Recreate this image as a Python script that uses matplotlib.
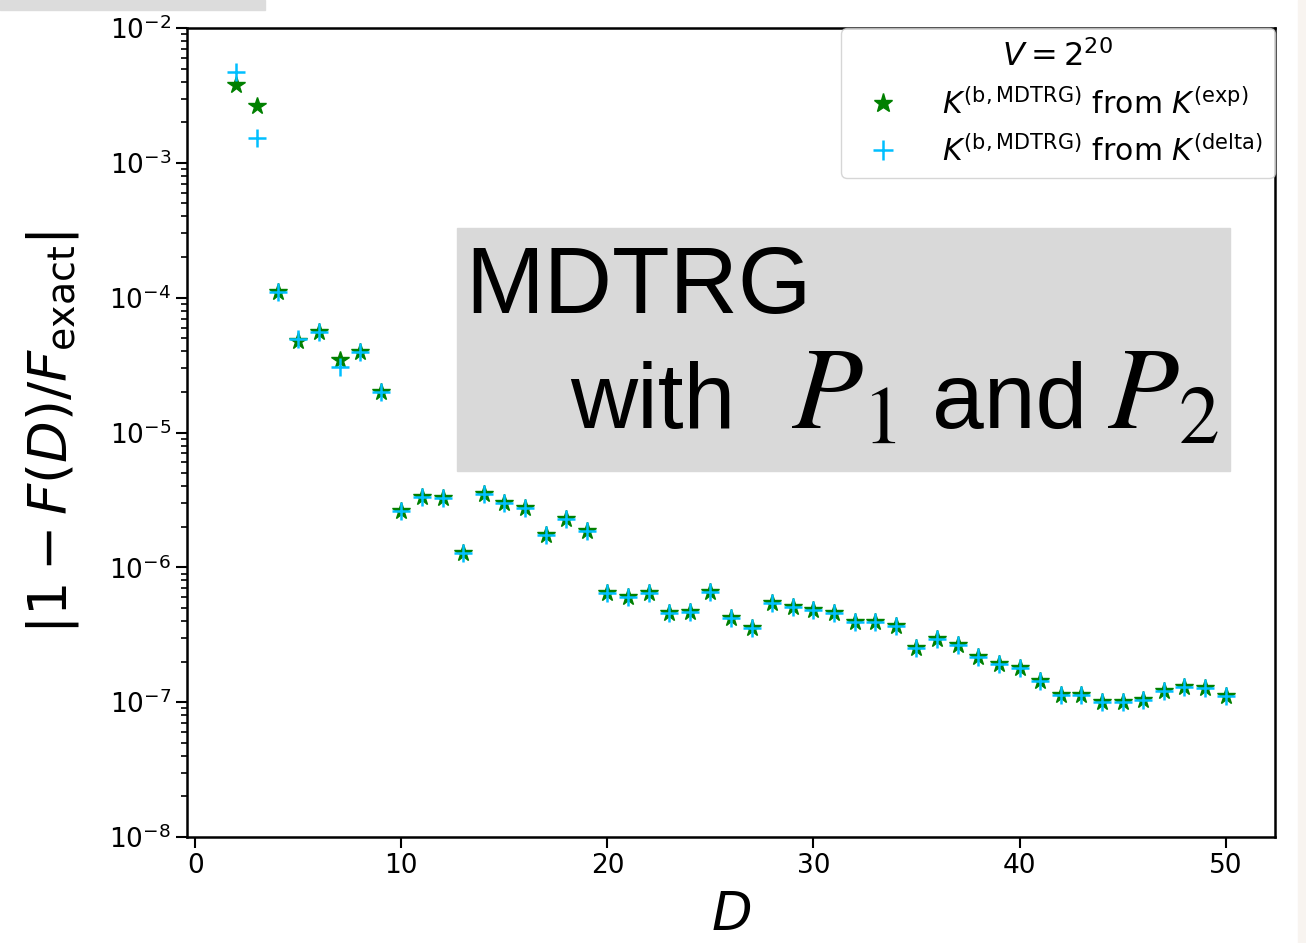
import matplotlib
matplotlib.use('Agg')
import matplotlib.pyplot as plt
from matplotlib.patches import Rectangle

D = list(range(2, 51))
err_exp = [3.78e-3, 2.63e-3, 1.10e-4, 4.77e-5, 5.6e-5, 3.45e-5, 3.97e-5, 2.01e-5,
           2.63e-6, 3.34e-6, 3.25e-6, 1.28e-6, 3.48e-6, 3.01e-6, 2.74e-6, 1.74e-6,
           2.27e-6, 1.87e-6, 6.41e-7, 5.98e-7, 6.41e-7, 4.61e-7, 4.69e-7, 6.59e-7,
           4.19e-7, 3.53e-7, 5.47e-7, 5.05e-7, 4.82e-7, 4.61e-7, 3.96e-7, 3.91e-7,
           3.69e-7, 2.51e-7, 2.94e-7, 2.65e-7, 2.15e-7, 1.92e-7, 1.78e-7, 1.44e-7,
           1.13e-7, 1.13e-7, 1.01e-7, 1.01e-7, 1.04e-7, 1.22e-7, 1.30e-7, 1.27e-7,
           1.11e-7]
err_delta = [4.72e-3, 1.53e-3, 1.10e-4, 4.90e-5, 5.6e-5, 3.08e-5, 3.97e-5, 2.01e-5,
             2.63e-6, 3.34e-6, 3.25e-6, 1.28e-6, 3.48e-6, 3.01e-6, 2.74e-6, 1.74e-6,
             2.27e-6, 1.87e-6, 6.41e-7, 5.98e-7, 6.41e-7, 4.61e-7, 4.69e-7, 6.59e-7,
             4.19e-7, 3.53e-7, 5.47e-7, 5.05e-7, 4.82e-7, 4.61e-7, 3.96e-7, 3.91e-7,
             3.69e-7, 2.51e-7, 2.94e-7, 2.65e-7, 2.15e-7, 1.92e-7, 1.78e-7, 1.44e-7,
             1.13e-7, 1.13e-7, 1.01e-7, 1.01e-7, 1.04e-7, 1.22e-7, 1.30e-7, 1.27e-7,
             1.11e-7]

fig = plt.figure(figsize=(13.06, 9.43), dpi=100)
ax = fig.add_axes([0.1432, 0.1124, 0.8331, 0.8579])

# screenshot leftovers around the figure
fig.patches.append(Rectangle((0, 0.989), 0.203, 0.011, transform=fig.transFigure,
                             color='#dcdcdc', zorder=0))
fig.patches.append(Rectangle((0.9939, 0), 0.0061, 1, transform=fig.transFigure,
                             color='#f8f4f0', zorder=0))

ax.plot(D, err_exp, linestyle='None', marker='*', color='green', markersize=13,
        label=r'$K^{(\mathrm{b,MDTRG})}$ from $K^{(\mathrm{exp})}$')
ax.plot(D, err_delta, linestyle='None', marker='+', color='#00bfff', markersize=13,
        markeredgewidth=1.8, label=r'$K^{(\mathrm{b,MDTRG})}$ from $K^{(\mathrm{delta})}$')

ax.set_yscale('log')
ax.set_ylim(1e-8, 1e-2)
ax.set_xlabel(r'$D$', fontsize=38, labelpad=7)
ax.set_ylabel(r'$|1-F(D)/F_{\mathrm{exact}}|$', fontsize=39, labelpad=20)
ax.tick_params(axis='both', which='major', labelsize=19, length=8, width=1.5)
ax.tick_params(axis='y', which='minor', length=4, width=1.2)
for s in ax.spines.values():
    s.set_linewidth(1.8)

leg = ax.legend(title=r'$V=2^{20}$', fontsize=21.5, title_fontsize=23, loc='upper right',
                borderaxespad=0.0, numpoints=1, handletextpad=1.0, markerscale=1.1)

# annotation box
ax.add_patch(Rectangle((0.248, 0.452), 0.711, 0.301, transform=ax.transAxes,
                       color='#d9d9d9', zorder=3))
ax.text(0.2555, 0.648, 'MDTRG', transform=ax.transAxes, fontsize=68,
        family='Liberation Sans', va='baseline', ha='left', zorder=4)
ax.text(0.352, 0.5056, 'with', transform=ax.transAxes, fontsize=67,
        family='Liberation Sans', va='baseline', ha='left', zorder=4)
ax.text(0.5555, 0.5056, r'$P_1$', transform=ax.transAxes, fontsize=84,
        math_fontfamily='stix', va='baseline', ha='left', zorder=4)
ax.text(0.6847, 0.5056, 'and', transform=ax.transAxes, fontsize=67,
        family='Liberation Sans', va='baseline', ha='left', zorder=4)
ax.text(0.8455, 0.5056, r'$P_2$', transform=ax.transAxes, fontsize=84,
        math_fontfamily='stix', va='baseline', ha='left', zorder=4)

plt.savefig('out.png', dpi=100)
